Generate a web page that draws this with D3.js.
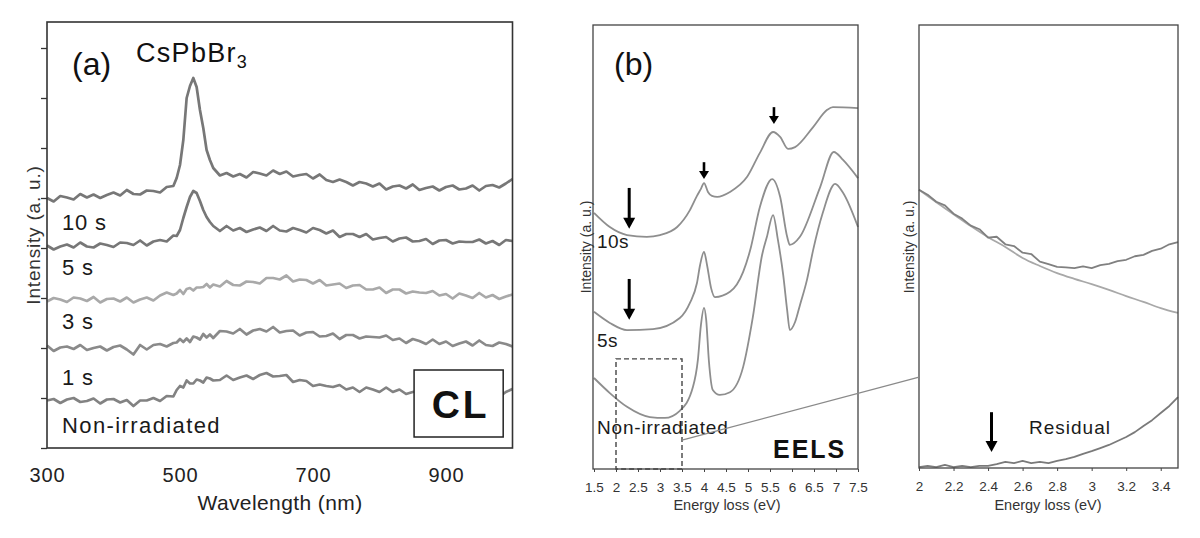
<!DOCTYPE html>
<html><head><meta charset="utf-8">
<script src="https://cdn.jsdelivr.net/npm/d3@7"></script>
<style>
body{margin:0;background:#fff;}
svg{display:block;font-family:"Liberation Sans",Arial,sans-serif;}
</style>
</head><body>
<svg id="chart" width="1200" height="538"></svg>
<script>
// ---------- Panel (a): CL spectra ----------
const wavelength = [300,310,320,330,340,350,360,370,380,390,400,410,420,430,440,450,460,470,480,490,
  495,500,505,510,515,520,525,530,535,540,545,550,
  560,570,580,590,600,610,620,630,640,650,660,670,680,690,700,710,720,730,740,750,760,770,780,790,800,
  810,820,830,840,850,860,870,880,890,900,910,920,930,940,950,960,970,980,990,1000];
const cl10s = [5.00,4.93,5.04,5.01,4.97,5.08,5.01,5.07,5.00,5.06,5.11,5.05,5.16,5.08,5.07,5.15,5.14,5.11,5.22,5.24,
  5.40,5.66,6.16,7.00,7.24,7.40,7.22,6.76,6.40,5.96,5.76,5.60,
  5.45,5.50,5.43,5.48,5.41,5.52,5.49,5.45,5.55,5.48,5.53,5.43,5.46,5.48,5.39,5.47,5.36,5.32,5.37,5.32,5.25,5.32,5.29,5.23,5.29,
  5.17,5.23,5.25,5.19,5.27,5.16,5.20,5.23,5.15,5.22,5.25,5.17,5.19,5.25,5.15,5.24,5.26,5.21,5.29,5.38];
const cl5s = [4.05,3.97,4.03,4.07,4.01,4.11,4.03,4.01,4.09,4.06,4.02,4.11,4.10,4.06,4.15,4.05,4.13,4.16,4.13,4.25,
  4.24,4.36,4.60,4.82,5.02,5.14,5.10,4.94,4.76,4.62,4.52,4.44,
  4.34,4.44,4.35,4.40,4.32,4.37,4.41,4.34,4.44,4.35,4.33,4.40,4.36,4.31,4.40,4.36,4.29,4.35,4.22,4.28,4.28,4.22,4.28,4.17,4.20,
  4.22,4.13,4.19,4.21,4.13,4.14,4.18,4.08,4.15,4.16,4.09,4.13,4.12,4.12,4.17,4.09,4.14,4.06,4.16,4.14];
const cl3s = [2.93,3.00,2.97,2.92,3.01,2.99,2.94,3.02,2.91,2.98,2.99,2.93,3.01,2.91,2.97,3.01,2.95,3.05,3.11,3.06,
  3.09,3.16,3.08,3.18,3.20,3.15,3.21,3.21,3.22,3.28,3.21,3.27,
  3.23,3.34,3.26,3.25,3.33,3.32,3.29,3.40,3.40,3.37,3.45,3.33,3.37,3.36,3.29,3.36,3.25,3.27,3.29,3.20,3.25,3.26,3.17,3.17,3.21,
  3.10,3.17,3.17,3.09,3.13,3.11,3.10,3.14,3.05,3.08,2.99,3.09,3.05,3.00,3.10,3.01,3.06,2.98,3.03,3.07];
const cl1s = [2.05,1.94,2.01,2.03,1.98,2.06,1.96,2.00,2.03,1.95,2.02,2.05,1.97,1.87,2.06,1.97,2.06,2.08,2.03,2.10,
  2.11,2.18,2.12,2.19,2.12,2.23,2.21,2.17,2.28,2.21,2.27,2.20,
  2.34,2.33,2.29,2.38,2.27,2.35,2.38,2.33,2.42,2.31,2.34,2.35,2.25,2.31,2.32,2.23,2.24,2.29,2.18,2.26,2.26,2.19,2.23,2.22,2.21,
  2.25,2.16,2.19,2.10,2.18,2.14,2.08,2.17,2.08,2.13,2.04,2.09,2.13,2.05,2.15,2.06,2.04,2.11,2.08,2.03];
const clNon = [0.95,0.98,0.90,0.97,1.00,0.92,0.94,0.99,0.89,0.97,0.98,0.91,0.96,0.84,0.95,0.95,1.00,0.94,1.04,1.03,
  1.16,1.24,1.21,1.35,1.29,1.29,1.37,1.35,1.31,1.41,1.39,1.35,
  1.36,1.45,1.36,1.41,1.45,1.38,1.46,1.50,1.43,1.44,1.46,1.32,1.36,1.34,1.24,1.27,1.24,1.22,1.26,1.17,1.21,1.12,1.21,1.17,1.12,
  1.21,1.12,1.17,1.08,1.12,1.15,1.07,1.16,1.06,1.04,1.10,1.06,1.01,1.09,1.07,1.02,1.11,1.02,1.12,1.18];
const clLabels = ["10 s","5 s","3 s","1 s","Non-irradiated"];
const clTicksX = [300,500,700,900];
const clTicksY = [0,1,2,3,4,5,6,7,8];

// ---------- Panel (b): EELS spectra ----------
const eels10sE = [1.5,1.86,2.25,2.7,3.0,3.39,3.68,3.84,3.93,4.0,4.09,4.18,4.3,4.59,4.98,5.27,5.57,5.73,5.91,6.07,6.48,6.8,6.93,7.5];
const eels10s  = [5.77,5.45,5.27,5.23,5.27,5.45,5.83,6.15,6.31,6.44,6.24,6.15,6.13,6.24,6.58,7.12,7.59,7.48,7.21,7.25,7.70,8.09,8.15,8.13];
const eels5sE  = [1.5,1.86,2.25,2.84,3.45,3.68,3.84,3.91,4.0,4.07,4.16,4.25,4.59,4.89,5.05,5.27,5.55,5.73,5.89,5.95,6.18,6.64,6.95,7.16,7.5];
const eels5s   = [3.54,3.29,3.13,3.15,3.40,3.74,4.19,4.59,4.89,4.59,4.08,3.87,3.99,4.44,4.93,5.90,6.53,6.13,5.23,5.05,5.23,6.35,7.14,6.96,6.55];
const eelsNonE = [1.5,1.86,2.25,2.77,3.11,3.45,3.75,3.86,3.93,4.0,4.05,4.11,4.2,4.36,4.59,4.89,5.11,5.32,5.43,5.57,5.68,5.8,5.89,5.95,6.07,6.18,6.34,6.48,6.7,6.98,7.16,7.5];
const eelsNon  = [2.05,1.71,1.40,1.17,1.15,1.31,1.85,2.45,3.24,3.63,3.36,2.45,1.78,1.67,1.73,2.30,3.42,4.82,5.23,5.72,5.16,4.37,3.58,3.13,3.31,3.69,4.26,4.93,5.77,6.42,6.22,5.45];
const eelsTicks = [1.5,2,2.5,3,3.5,4,4.5,5,5.5,6,6.5,7,7.5];

// ---------- Panel (c): zoom 2 - 3.5 eV ----------
const lossE = [2.0,2.05,2.1,2.15,2.2,2.25,2.3,2.35,2.4,2.45,2.5,2.55,2.6,2.65,2.7,2.75,2.8,2.85,2.9,2.95,3.0,3.05,3.1,3.15,3.2,3.25,3.3,3.35,3.4,3.45,3.5];
const lossData = [6.28,6.17,6.01,5.93,5.74,5.63,5.47,5.39,5.20,5.22,5.05,5.01,4.86,4.83,4.66,4.60,4.54,4.53,4.51,4.55,4.51,4.58,4.61,4.67,4.70,4.78,4.81,4.90,4.95,5.05,5.10];
const fitE = [2.0,2.1,2.2,2.3,2.4,2.5,2.6,2.7,2.8,2.9,3.0,3.1,3.2,3.3,3.4,3.5];
const lossFit = [6.28,6.00,5.73,5.46,5.21,4.99,4.74,4.56,4.40,4.27,4.15,4.02,3.88,3.75,3.61,3.50];
const residual = [0.02,0.05,0.02,0.07,0.02,0.05,0.02,0.05,0.05,0.09,0.14,0.11,0.16,0.11,0.14,0.11,0.16,0.20,0.25,0.32,0.38,0.45,0.52,0.61,0.70,0.81,0.95,1.08,1.24,1.40,1.60];
const zoomTicks = [2,2.2,2.4,2.6,2.8,3,3.2,3.4];

// ---------------- drawing ----------------
const svg = d3.select("#chart");
svg.append("rect").attr("width",1200).attr("height",538).attr("fill","#fff");

function arrow(g, x, y1, y2, w, head, hw){
  g.append("line").attr("x1",x).attr("x2",x).attr("y1",y1).attr("y2",y2-head+1)
    .attr("stroke","#000").attr("stroke-width",w);
  g.append("path").attr("d",`M${x-hw},${y2-head} L${x+hw},${y2-head} L${x},${y2} Z`).attr("fill","#000");
}

// ===== Panel (a)
const xA = d3.scaleLinear([300,1000],[47,512.5]);
const yA = d3.scaleLinear([0,8.52],[448,22]);
const gA = svg.append("g");
const clSeries = [
  {v:cl10s, c:"#777777"},
  {v:cl5s, c:"#777777"},
  {v:cl3s, c:"#a9a9a9"},
  {v:cl1s, c:"#8a8a8a"},
  {v:clNon, c:"#828282"}
];
const lineA = d3.line().x((d,i)=>xA(wavelength[i])).y(d=>yA(d));
clSeries.forEach(s=>{
  gA.append("path").attr("d",lineA(s.v)).attr("fill","none").attr("stroke",s.c)
    .attr("stroke-width",2.7).attr("stroke-linejoin","round");
});
// CL box (covers the curve)
gA.append("rect").attr("x",xA(852)).attr("y",yA(1.56)).attr("width",xA(986)-xA(852)).attr("height",yA(0.22)-yA(1.56))
  .attr("fill","#fff").attr("stroke","#222").attr("stroke-width",1.5);
gA.append("text").attr("x",(xA(852)+xA(986))/2+2).attr("y",418).attr("text-anchor","middle")
  .attr("font-size",39).attr("font-weight","bold").attr("letter-spacing",3).attr("fill","#111").text("CL");
// frame
gA.append("rect").attr("x",47).attr("y",22).attr("width",465.5).attr("height",426)
  .attr("fill","none").attr("stroke","#333").attr("stroke-width",1.6);
// axes
const axA = gA.append("g").attr("transform","translate(0,448)")
  .call(d3.axisBottom(xA).tickValues(clTicksX).tickSize(0).tickFormat(d3.format("d")));
axA.select(".domain").remove();
axA.selectAll("text").attr("y",34).attr("dy",0).attr("font-size",20).attr("letter-spacing",0.8)
  .attr("fill","#222").attr("font-family","Liberation Sans, Arial, sans-serif");
const ayA = gA.append("g").attr("transform","translate(47,0)")
  .call(d3.axisLeft(yA).tickValues(clTicksY).tickSize(6).tickFormat(""));
ayA.select(".domain").remove();
ayA.selectAll("line").attr("stroke","#333").attr("stroke-width",1.3);
// labels
const labY = [230,275,329,385,433];
clLabels.forEach((t,i)=>{
  gA.append("text").attr("x",62).attr("y",labY[i]).attr("font-size",22).attr("letter-spacing",i===4?1.4:0.8)
    .attr("fill","#1a1a1a").text(t);
});
gA.append("text").attr("x",72).attr("y",75).attr("font-size",32).attr("fill","#111").text("(a)");
const cs = gA.append("text").attr("x",136).attr("y",62).attr("font-size",27).attr("letter-spacing",1.3).attr("fill","#111");
cs.append("tspan").text("CsPbBr");
cs.append("tspan").attr("font-size",18).attr("dy",6).text("3");
gA.append("text").attr("x",280).attr("y",510).attr("text-anchor","middle").attr("font-size",21)
  .attr("letter-spacing",0.4).attr("fill","#222").text("Wavelength (nm)");
gA.append("text").attr("transform","translate(40,235) rotate(-90)").attr("text-anchor","middle")
  .attr("font-size",19).attr("letter-spacing",0.8).attr("fill","#333").text("Intensity (a. u.)");

// ===== Panel (b)
const xB = d3.scaleLinear([1.5,7.5],[594,858]);
const yB = d3.scaleLinear([0,10],[469,25]);
const gB = svg.append("g");
const lineB = d3.line().curve(d3.curveMonotoneX);
[[eels10sE,eels10s],[eels5sE,eels5s],[eelsNonE,eelsNon]].forEach(([E,V])=>{
  gB.append("path").attr("d",lineB(E.map((e,i)=>[xB(e),yB(V[i])]))).attr("fill","none")
    .attr("stroke","#8e8e8e").attr("stroke-width",1.8);
});
// dashed zoom region
gB.append("rect").attr("x",xB(2)).attr("y",yB(2.48)).attr("width",xB(3.5)-xB(2)).attr("height",yB(0)-yB(2.48))
  .attr("fill","none").attr("stroke","#444").attr("stroke-width",1.4).attr("stroke-dasharray","5,3");
// frame
gB.append("rect").attr("x",593).attr("y",25).attr("width",265).attr("height",444)
  .attr("fill","none").attr("stroke","#444").attr("stroke-width",1.3);
const axB = gB.append("g").attr("transform","translate(0,469)")
  .call(d3.axisBottom(xB).tickValues(eelsTicks).tickSize(3).tickFormat(d=>String(d)));
axB.select(".domain").remove();
axB.selectAll("line").attr("stroke","#444");
axB.selectAll("text").attr("y",23).attr("dy",0).attr("font-size",13.5).attr("fill","#333")
  .attr("font-family","Liberation Sans, Arial, sans-serif");
gB.append("text").attr("x",727).attr("y",510).attr("text-anchor","middle").attr("font-size",14.5)
  .attr("fill","#333").text("Energy loss (eV)");
gB.append("text").attr("transform","translate(591,247) rotate(-90)").attr("text-anchor","middle")
  .attr("font-size",14).attr("fill","#333").text("Intensity (a. u.)");
gB.append("text").attr("x",614).attr("y",75).attr("font-size",32).attr("fill","#111").text("(b)");
gB.append("text").attr("x",597).attr("y",248).attr("font-size",19).attr("letter-spacing",0.4).attr("fill","#1a1a1a").text("10s");
gB.append("text").attr("x",597).attr("y",347).attr("font-size",19).attr("letter-spacing",0.4).attr("fill","#1a1a1a").text("5s");
gB.append("text").attr("x",597).attr("y",434).attr("font-size",19).attr("letter-spacing",0.8).attr("fill","#1a1a1a").text("Non-irradiated");
gB.append("text").attr("x",773).attr("y",458).attr("font-size",25).attr("font-weight","bold")
  .attr("letter-spacing",2).attr("fill","#111").text("EELS");
// arrows
arrow(gB, xB(2.3), yB(6.33), yB(5.41), 3, 11, 6);
arrow(gB, xB(2.3), yB(4.28), yB(3.36), 3, 11, 6);
arrow(gB, xB(4.0), yB(6.91), yB(6.53), 2.6, 8, 5);
arrow(gB, xB(5.59), yB(8.15), yB(7.77), 2.6, 8, 5);

// ===== Panel (c)
const xC = d3.scaleLinear([2,3.5],[919,1178]);
const yC = d3.scaleLinear([0,10],[468,25]);
const gC = svg.append("g");
// connector line
svg.append("line").attr("x1",xB(3.5)).attr("y1",yB(0.65)).attr("x2",xC(2)).attr("y2",yC(2.05))
  .attr("stroke","#8a8a8a").attr("stroke-width",1.2);
const lineC = d3.line();
const lineCs = d3.line().curve(d3.curveMonotoneX);
gC.append("path").attr("d",lineCs(fitE.map((e,i)=>[xC(e),yC(lossFit[i])]))).attr("fill","none")
  .attr("stroke","#a8a8a8").attr("stroke-width",1.8);
gC.append("path").attr("d",lineC(lossE.map((e,i)=>[xC(e),yC(lossData[i])]))).attr("fill","none")
  .attr("stroke","#808080").attr("stroke-width",1.8).attr("stroke-linejoin","round");
gC.append("path").attr("d",lineC(lossE.map((e,i)=>[xC(e),yC(residual[i])]))).attr("fill","none")
  .attr("stroke","#7a7a7a").attr("stroke-width",1.8).attr("stroke-linejoin","round");
gC.append("rect").attr("x",919).attr("y",25).attr("width",259).attr("height",443)
  .attr("fill","none").attr("stroke","#444").attr("stroke-width",1.3);
const axC = gC.append("g").attr("transform","translate(0,468)")
  .call(d3.axisBottom(xC).tickValues(zoomTicks).tickSize(3).tickFormat(d=>String(+d.toFixed(1))));
axC.select(".domain").remove();
axC.selectAll("line").attr("stroke","#444");
axC.selectAll("text").attr("y",23).attr("dy",0).attr("font-size",13.5).attr("fill","#333")
  .attr("font-family","Liberation Sans, Arial, sans-serif");
gC.append("text").attr("x",1048).attr("y",510).attr("text-anchor","middle").attr("font-size",14.5)
  .attr("fill","#333").text("Energy loss (eV)");
gC.append("text").attr("transform","translate(914,247) rotate(-90)").attr("text-anchor","middle")
  .attr("font-size",14).attr("fill","#333").text("Intensity (a. u.)");
gC.append("text").attr("x",1029).attr("y",434).attr("font-size",19).attr("letter-spacing",1).attr("fill","#1a1a1a").text("Residual");
arrow(gC, xC(2.42), yC(1.26), yC(0.36), 3, 11, 6);
</script>
</body></html>
